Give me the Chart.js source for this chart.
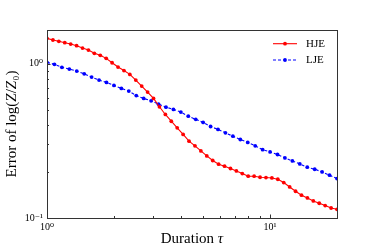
<!DOCTYPE html>
<html>
<head>
<meta charset="utf-8">
<script src="https://cdn.jsdelivr.net/npm/chart.js@4.4.0/dist/chart.umd.min.js"></script>
<style>
  html, body { margin: 0; padding: 0; background: #fff; }
  #wrap { width: 374px; height: 249px; }
</style>
</head>
<body>
<div id="wrap"><canvas id="errChart" width="374" height="249"></canvas></div>
<script>
// durations (log spaced grid used for each method)
var hjeTau = [1, 1.063, 1.1301, 1.2013, 1.277, 1.3575, 1.4431, 1.5341, 1.6308, 1.7336,
  1.8429, 1.9591, 2.0826, 2.2139, 2.3535, 2.5019, 2.6596, 2.8273, 3.0055, 3.195,
  3.3964, 3.6106, 3.8382, 4.0802, 4.3374, 4.6109, 4.9016, 5.2106, 5.5391, 5.8883,
  6.2596, 6.6542, 7.0737, 7.5197, 7.9938, 8.4978, 9.0335, 9.603, 10.209, 10.852,
  11.536, 12.264, 13.037, 13.859, 14.733, 15.661, 16.649, 17.699, 18.815, 20];
var hjeErr = [1.462, 1.425, 1.398, 1.369, 1.342, 1.309, 1.264, 1.227, 1.168, 1.134,
  1.084, 1.015, 0.952, 0.903, 0.853, 0.784, 0.717, 0.655, 0.596, 0.526,
  0.469, 0.424, 0.384, 0.348, 0.315, 0.2935, 0.2723, 0.2527, 0.2359, 0.2232,
  0.2167, 0.2093, 0.2019, 0.1942, 0.1866, 0.1866, 0.1837, 0.1829, 0.1818, 0.1783,
  0.1698, 0.159, 0.1491, 0.1405, 0.1349, 0.129, 0.1246, 0.1204, 0.1161, 0.1139];

var ljeTau = [1, 1.0798, 1.1661, 1.2592, 1.3597, 1.4683, 1.5855, 1.7121, 1.8488, 1.9964,
  2.1558, 2.3279, 2.5138, 2.7145, 2.9312, 3.1652, 3.4179, 3.6908, 3.9855, 4.3037,
  4.6473, 5.0183, 5.4189, 5.8516, 6.3187, 6.8233, 7.368, 7.9562, 8.5914, 9.2773,
  10.018, 10.818, 11.681, 12.614, 13.621, 14.708, 15.882, 17.15, 18.519, 20];
var ljeErr = [1.021, 0.991, 0.948, 0.924, 0.897, 0.861, 0.82, 0.784, 0.757, 0.724,
  0.692, 0.665, 0.622, 0.596, 0.575, 0.547, 0.523, 0.506, 0.486, 0.4575,
  0.436, 0.4164, 0.392, 0.375, 0.3564, 0.3393, 0.3229, 0.3088, 0.2935, 0.2773,
  0.2683, 0.258, 0.2452, 0.2344, 0.2242, 0.2134, 0.2071, 0.1989, 0.1894, 0.1802];

var xRange = [1, 20];
var yRange = [0.1, 1.655];

// axis titles as [text, italic] pieces
var xTitle = [['Duration ', false], ['\u03c4', true]];
var yTitle = [['Error of log(', false], ['Z', true], ['/', false], ['Z', true], ['\u2080)', false]];

var serif = "'Liberation Serif', 'DejaVu Serif', serif";
var supDigits = { '0': '\u2070', '1': '\u00b9', '2': '\u00b2', '3': '\u00b3', '-': '\u207b' };

function powLabel(v) {
  var p = Math.log10(v);
  if (Math.abs(p - Math.round(p)) > 1e-6) return '';
  var s = String(Math.round(p)).split('').map(function (c) { return supDigits[c]; }).join('');
  return '10' + s;
}

function toPts(xs, ys) {
  return xs.map(function (x, i) { return { x: x, y: ys[i] }; });
}

function drawPieces(ctx, pieces, size) {
  var w = 0;
  pieces.forEach(function (p) {
    ctx.font = (p[1] ? 'italic ' : '') + size + 'px ' + serif;
    w += ctx.measureText(p[0]).width;
  });
  var x = -w / 2;
  pieces.forEach(function (p) {
    ctx.font = (p[1] ? 'italic ' : '') + size + 'px ' + serif;
    ctx.fillText(p[0], x, 0);
    x += ctx.measureText(p[0]).width;
  });
}

// frame, inward ticks, titles, legend
var decor = {
  id: 'decor',
  afterDraw: function (chart) {
    var ctx = chart.ctx, a = chart.chartArea;
    ctx.save();
    ctx.strokeStyle = '#333';
    ctx.lineWidth = 1;
    ctx.strokeRect(Math.round(a.left) + 0.5, Math.round(a.top) + 0.5,
      Math.round(a.right - a.left), Math.round(a.bottom - a.top));

    ['x', 'y'].forEach(function (id) {
      var sc = chart.scales[id];
      sc.ticks.forEach(function (t) {
        var v = t.value;
        var m = v / Math.pow(10, Math.floor(Math.log10(v) + 1e-9));
        if (Math.abs(m - Math.round(m)) > 1e-6) return;
        var len = Math.abs(m - 1) < 1e-6 ? 3.5 : 2;
        var p = Math.round(sc.getPixelForValue(v)) + 0.5;
        ctx.beginPath();
        if (id === 'x') {
          ctx.moveTo(p, a.bottom); ctx.lineTo(p, a.bottom - len);
        } else {
          ctx.moveTo(a.left, p); ctx.lineTo(a.left + len, p);
        }
        ctx.stroke();
      });
    });

    ctx.fillStyle = '#000';
    ctx.textBaseline = 'middle';
    ctx.save();
    ctx.translate((a.left + a.right) / 2, 239);
    drawPieces(ctx, xTitle, 15);
    ctx.restore();
    ctx.save();
    ctx.translate(12.5, (a.top + a.bottom) / 2);
    ctx.rotate(-Math.PI / 2);
    drawPieces(ctx, yTitle, 15);
    ctx.restore();

    chart.data.datasets.forEach(function (ds, i) {
      var y = a.top + 13.7 + i * 16.3;
      var x0 = a.right - 64, x1 = a.right - 40;
      ctx.strokeStyle = ds.borderColor;
      ctx.lineWidth = ds.borderWidth;
      ctx.setLineDash(ds.borderDash || []);
      ctx.beginPath(); ctx.moveTo(x0, y); ctx.lineTo(x1, y); ctx.stroke();
      ctx.setLineDash([]);
      ctx.fillStyle = ds.pointBackgroundColor;
      ctx.beginPath(); ctx.arc((x0 + x1) / 2, y, ds.pointRadius, 0, Math.PI * 2); ctx.fill();
      ctx.fillStyle = '#000';
      ctx.font = '11px ' + serif;
      ctx.fillText(ds.label, a.right - 31, y + 0.5);
    });
    ctx.restore();
  }
};

var ctx = document.getElementById('errChart');
var errChart = new Chart(ctx, {
  type: 'scatter',
  data: {
    datasets: [{
      label: 'HJE',
      data: toPts(hjeTau, hjeErr),
      showLine: true,
      borderColor: '#ff0000',
      backgroundColor: '#ff0000',
      pointBackgroundColor: '#ff0000',
      borderWidth: 1.1,
      pointRadius: 1.9,
      pointBorderWidth: 0
    }, {
      label: 'LJE',
      data: toPts(ljeTau, ljeErr),
      showLine: true,
      borderColor: '#0000ff',
      backgroundColor: '#0000ff',
      pointBackgroundColor: '#0000ff',
      borderWidth: 1.1,
      borderDash: [3, 2],
      pointRadius: 1.9,
      pointBorderWidth: 0
    }]
  },
  options: {
    responsive: false,
    animation: false,
    layout: { padding: { left: 0, right: 37, top: 30, bottom: 0 } },
    plugins: { legend: { display: false }, tooltip: { enabled: false } },
    scales: {
      x: {
        type: 'logarithmic',
        min: xRange[0], max: xRange[1],
        grid: { display: false, drawTicks: false },
        border: { display: false },
        ticks: { autoSkip: false, maxRotation: 0, padding: 3, color: '#000',
          font: { family: serif, size: 10 }, callback: powLabel },
        afterFit: function (s) { s.height = 31; }
      },
      y: {
        type: 'logarithmic',
        min: yRange[0], max: yRange[1],
        grid: { display: false, drawTicks: false },
        border: { display: false },
        ticks: { autoSkip: false, padding: 4, color: '#000',
          font: { family: serif, size: 10 }, callback: powLabel },
        afterFit: function (s) { s.width = 47; }
      }
    }
  },
  plugins: [decor]
});
</script>
</body>
</html>
